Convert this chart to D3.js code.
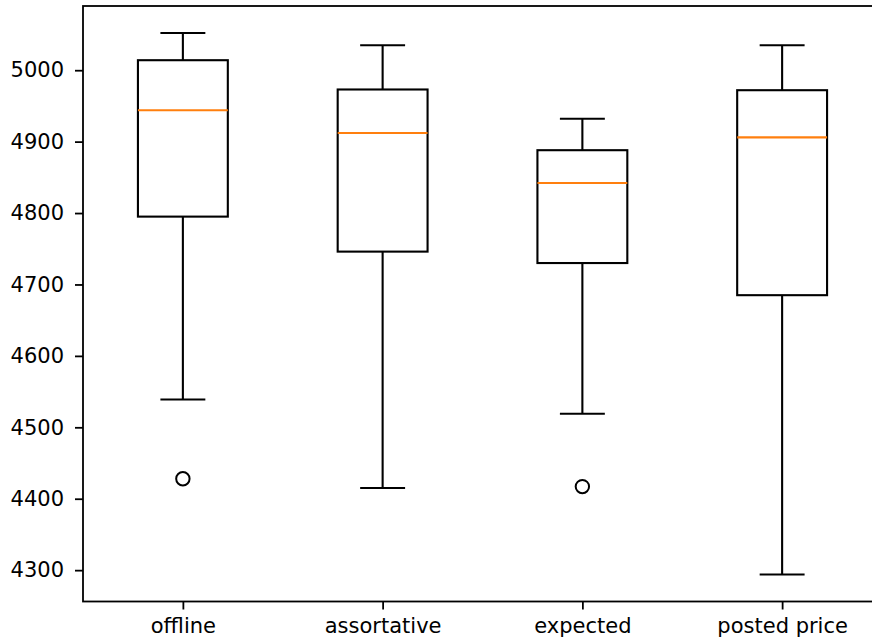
<!DOCTYPE html>
<html>
<head>
<meta charset="utf-8">
<script src="https://cdn.jsdelivr.net/npm/d3@7"></script>
<style>
  html, body { margin: 0; padding: 0; background: #fff; }
  svg { display: block; }
  text { font-family: "DejaVu Sans", sans-serif; fill: #000; }
</style>
</head>
<body>
<svg id="chart" width="872" height="644"></svg>
<script>
// Box-plot summaries per group
const categories = ["offline", "assortative", "expected", "posted price"];
const whiskerLow  = [4539, 4415, 4519, 4294];
const q1          = [4795, 4746, 4730, 4685];
const medians     = [4944, 4912, 4842, 4906];
const q3          = [5014, 4973, 4888, 4972];
const whiskerHigh = [5052, 5035, 4932, 5035];
const outliers    = [[4428], [], [4417], []];
const yTicks = [4300, 4400, 4500, 4600, 4700, 4800, 4900, 5000];

const svg = d3.select("#chart");
const plot = { left: 83, right: 882, top: 6, bottom: 601.5 };

const allVals = whiskerLow.concat(whiskerHigh, outliers.flat());
const lo = d3.min(allVals), hi = d3.max(allVals);
const pad = (hi - lo) * 0.05;

const x = d3.scaleLinear().domain([0.5, categories.length + 0.5]).range([plot.left, plot.right]);
const y = d3.scaleLinear().domain([lo - pad, hi + pad]).range([plot.bottom, plot.top]);

const boxW = 0.45, capW = 0.225;
const lw = 2.1;

const g = svg.append("g");

const groups = g.selectAll("g.box").data(categories.map((c, i) => ({
  c, i, pos: i + 1,
  lo: whiskerLow[i], q1: q1[i], med: medians[i], q3: q3[i], hi: whiskerHigh[i], out: outliers[i]
}))).join("g").attr("class", "box");

// whiskers
groups.append("line")
  .attr("x1", d => x(d.pos)).attr("x2", d => x(d.pos))
  .attr("y1", d => y(d.lo)).attr("y2", d => y(d.q1))
  .attr("stroke", "#000").attr("stroke-width", lw);
groups.append("line")
  .attr("x1", d => x(d.pos)).attr("x2", d => x(d.pos))
  .attr("y1", d => y(d.q3)).attr("y2", d => y(d.hi))
  .attr("stroke", "#000").attr("stroke-width", lw);
// caps
groups.append("line")
  .attr("x1", d => x(d.pos - capW / 2)).attr("x2", d => x(d.pos + capW / 2))
  .attr("y1", d => y(d.lo)).attr("y2", d => y(d.lo))
  .attr("stroke", "#000").attr("stroke-width", lw);
groups.append("line")
  .attr("x1", d => x(d.pos - capW / 2)).attr("x2", d => x(d.pos + capW / 2))
  .attr("y1", d => y(d.hi)).attr("y2", d => y(d.hi))
  .attr("stroke", "#000").attr("stroke-width", lw);
// box
groups.append("rect")
  .attr("x", d => x(d.pos - boxW / 2))
  .attr("width", d => x(d.pos + boxW / 2) - x(d.pos - boxW / 2))
  .attr("y", d => y(d.q3))
  .attr("height", d => y(d.q1) - y(d.q3))
  .attr("fill", "none").attr("stroke", "#000").attr("stroke-width", lw);
// median
groups.append("line")
  .attr("x1", d => x(d.pos - boxW / 2)).attr("x2", d => x(d.pos + boxW / 2))
  .attr("y1", d => y(d.med)).attr("y2", d => y(d.med))
  .attr("stroke", "#ff7f0e").attr("stroke-width", lw);
// fliers
groups.selectAll("circle").data(d => d.out.map(v => ({ v, pos: d.pos }))).join("circle")
  .attr("cx", d => x(d.pos)).attr("cy", d => y(d.v)).attr("r", 6.7)
  .attr("fill", "none").attr("stroke", "#000").attr("stroke-width", 2);

// axes
const yAxis = d3.axisLeft(y).tickValues(yTicks).tickSize(8).tickPadding(11).tickFormat(d3.format("d"));
const xAxis = d3.axisBottom(x).tickValues(categories.map((c, i) => i + 1)).tickSize(8).tickPadding(9)
  .tickFormat(d => categories[d - 1]);

const ya = svg.append("g").attr("transform", `translate(${plot.left},0)`).call(yAxis);
const xa = svg.append("g").attr("transform", `translate(0,${plot.bottom})`).call(xAxis);
[ya, xa].forEach(a => {
  a.select(".domain").remove();
  a.selectAll(".tick line").attr("stroke", "#000").attr("stroke-width", 1.8);
  a.selectAll(".tick text").attr("font-size", 21).attr("fill", "#1a1a1a")
    .style("font-family", "'DejaVu Sans', sans-serif");
});

// frame
svg.append("rect")
  .attr("x", plot.left).attr("y", plot.top)
  .attr("width", plot.right - plot.left).attr("height", plot.bottom - plot.top)
  .attr("fill", "none").attr("stroke", "#000").attr("stroke-width", 1.8);
</script>
</body>
</html>
